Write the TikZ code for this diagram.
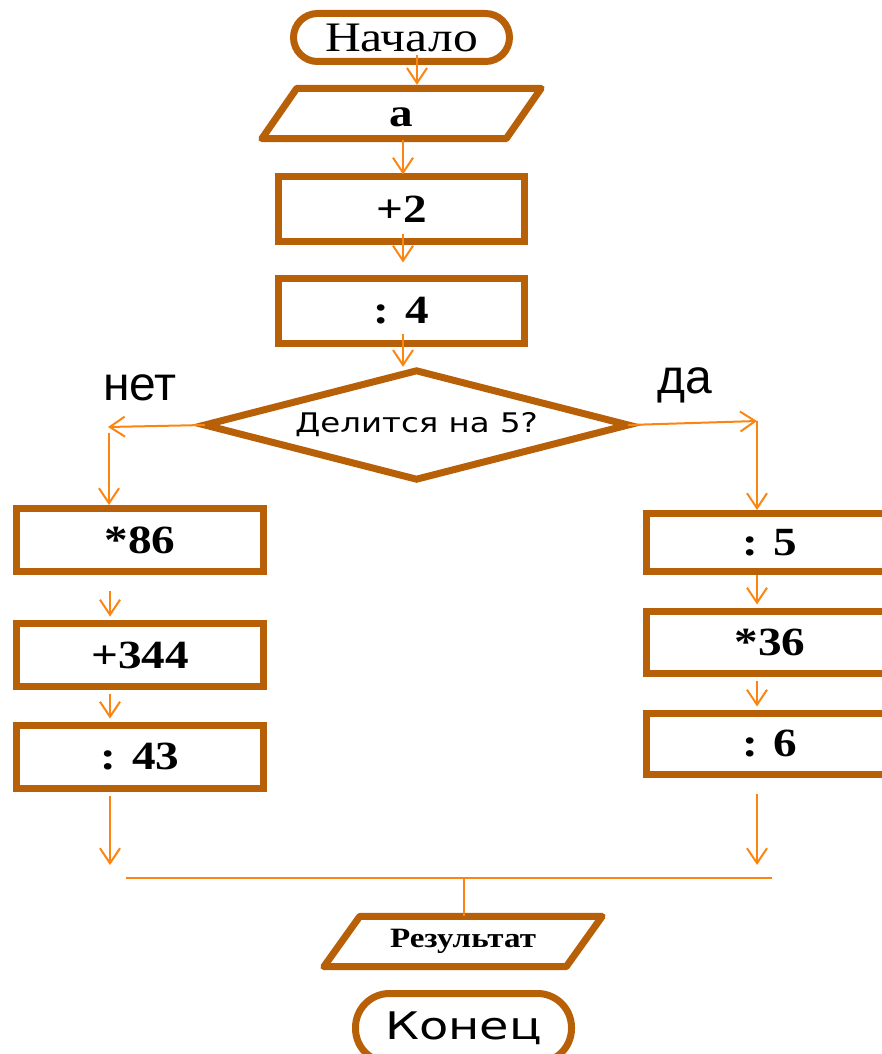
\documentclass[tikz,border=0pt]{standalone}
\usepackage{fontspec}
\setmainfont{Liberation Serif}
\newfontfamily\serifwide{Liberation Serif}[FakeStretch=1.18]
\newfontfamily\sanswide{DejaVu Sans}[FakeStretch=1.2]
\newfontfamily\sansend{DejaVu Sans}[FakeStretch=1.26]
\newfontfamily\arialfont{Liberation Sans}
\usetikzlibrary{arrows.meta,calc}
\definecolor{frame}{RGB}{183,96,8}
\definecolor{flow}{RGB}{252,133,18}
\newcommand\fsz[1]{\fontsize{#1}{#1}\selectfont}

\tikzset{
  frameline/.style={draw=frame, line width=7pt},
  block/.style={frameline, fill=white, inner sep=0pt, minimum width=247pt,
                minimum height=63pt, font=\serifwide\bfseries\fsz{40}},
  iobox/.style={inner sep=0pt, font=\serifwide\bfseries\fsz{40}},
  termbox/.style={frameline, fill=white, inner sep=0pt},
  arr/.style={draw=flow, line width=2pt, -{Straight Barb[length=15pt,width=20pt]}},
  flowline/.style={draw=flow, line width=2pt},
  branch/.style={font=\arialfont\fsz{48}, inner sep=0pt},
}

\begin{document}
\begin{tikzpicture}[x=1pt, y=-1pt]
\useasboundingbox (0,0) rectangle (881,1054);

% terminator: start
\node[termbox, minimum width=216pt, minimum height=48pt, rounded corners=24pt,
      font=\serifwide\fsz{42}] (start) at (401.5,37.5) {Начало};

% input parallelogram
\node[iobox, minimum width=279pt, minimum height=50pt] (inp) at (401.5,113.5) {a\vphantom{A}};
\draw[frameline, line join=round] ([xshift=35pt]inp.north west) -- (inp.north east)
  -- ([xshift=-35pt]inp.south east) -- (inp.south west) -- cycle;

% main column
\node[block, minimum width=246pt, minimum height=65pt] (plus2) at (401.5,209) {+2};
\node[block, minimum width=246pt, minimum height=65pt] (div4) at (401.5,311) {: 4};

% decision
\node[inner sep=0pt, minimum width=423pt, minimum height=108pt,
      font=\sanswide\fsz{27}] (dec) at (416.5,425) {Делится на 5?};
\draw[frameline] (dec.north) -- (dec.east) -- (dec.south) -- (dec.west) -- cycle;

\node[branch] (no) at (140,388) {нет};
\node[branch] (yes) at (685,385) {да};

% "no" branch
\node[block] (m86) at (140,540) {*86};
\node[block] (p344) at (140,655) {+344};
\node[block] (d43) at (140,757) {: 43};

% "yes" branch
\node[block, minimum height=58pt] (d5) at (770,542.5) {: 5};
\node[block, minimum height=62pt] (m36) at (770,642.5) {*36};
\node[block, minimum height=61pt] (d6) at (770,744) {: 6};

% output and end
\node[iobox, font=\serifwide\bfseries\fsz{28}, minimum width=278pt, minimum height=50pt]
  (res) at (463,941.5) {Результат};
\draw[frameline, line join=round] ([xshift=36pt]res.north west) -- (res.north east)
  -- ([xshift=-36pt]res.south east) -- (res.south west) -- cycle;

\node[termbox, minimum width=216pt, minimum height=69pt, rounded corners=34pt,
      font=\sansend\fsz{38}] (stop) at (463.5,1028) {Конец};

% connector end points
\coordinate (nl) at (108,427);
\coordinate (nlv) at (109,433);
\coordinate (yr) at (757,421);
\coordinate (lend) at (110,865);
\coordinate (rend) at (757,865);
\coordinate (ml) at (126,878);
\coordinate (mr) at (772,878);
\coordinate (mm) at (464,878);

% connectors
\draw[arr] ([xshift=15.5pt,yshift=9.5pt]start.south) -- ([xshift=15.5pt,yshift=3.5pt]inp.north);
\draw[arr] ([xshift=1.5pt,yshift=-1.5pt]inp.south) -- ([xshift=1.5pt,yshift=-1.5pt]plus2.north);
\draw[arr] ([xshift=1.5pt,yshift=11.5pt]plus2.south) -- ([xshift=1.5pt,yshift=12.5pt]div4.north);
\draw[arr] ([xshift=1.5pt,yshift=13.5pt]div4.south) -- ([xshift=-13.5pt,yshift=4pt]dec.north);

\draw[arr] (dec.west) -- (nl);
\draw[arr] (nlv) -- (nlv |- m86.north);
\draw[arr] (dec.east) -- (yr);
\draw[arr] (yr) -- (yr |- d5.north);

\draw[arr] ([xshift=-30pt,yshift=-15.5pt]m86.south) -- ([xshift=-30pt,yshift=3.5pt]p344.north);
\draw[arr] ([xshift=-30pt,yshift=-3.5pt]p344.south) -- ([xshift=-30pt,yshift=3.5pt]d43.north);
\draw[arr] ([xshift=-30pt,yshift=-3.5pt]d43.south) -- (lend);

\draw[arr] ([xshift=-13pt]d5.south) -- ([xshift=-13pt,yshift=3.5pt]m36.north);
\draw[arr] ([xshift=-13pt,yshift=-3.5pt]m36.south) -- ([xshift=-13pt,yshift=3.5pt]d6.north);
\draw[arr] ([xshift=-13pt,yshift=-15.5pt]d6.south) -- (rend);

\draw[flowline] (ml) -- (mr);
\draw[flowline] (mm) -- (mm |- res.north);
\end{tikzpicture}
\end{document}
